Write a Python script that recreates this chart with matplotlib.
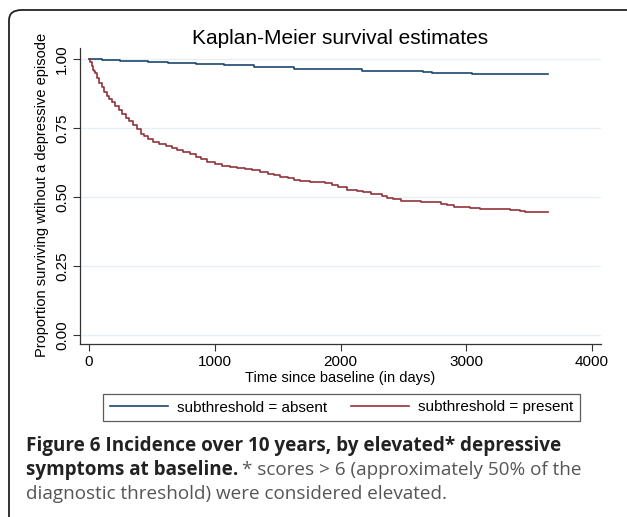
import matplotlib
matplotlib.use("Agg")
import matplotlib.pyplot as plt
from matplotlib.patches import FancyBboxPatch
from matplotlib.lines import Line2D

# ---- data ----
blue_t = [0, 100, 250, 470, 630, 850, 1070, 1310, 1630, 2170, 2660, 2730, 3046, 3650]
blue_s = [1.0, 0.996, 0.993, 0.990, 0.987, 0.983, 0.978, 0.970, 0.965, 0.957, 0.954, 0.951, 0.946, 0.946]

red_t = [0, 10, 20, 30, 40, 50, 65, 80, 100, 120, 140, 160, 185, 210, 235, 260, 290, 320,
         350, 380, 410, 440, 470, 510, 560, 610, 660, 700, 750, 800, 850, 890, 940, 1000,
         1060, 1120, 1180, 1240, 1300, 1360, 1420, 1470, 1520, 1580, 1630, 1680, 1760, 1880,
         1930, 1980, 2050, 2130, 2180, 2240, 2330, 2370, 2420, 2480, 2560, 2640, 2800, 2850,
         2900, 3030, 3110, 3350, 3430, 3470, 3650]
red_s = [1.0, 0.99, 0.975, 0.962, 0.955, 0.948, 0.930, 0.912, 0.898, 0.882, 0.867, 0.856,
         0.844, 0.830, 0.815, 0.800, 0.788, 0.776, 0.760, 0.745, 0.730, 0.720, 0.710, 0.700,
         0.692, 0.685, 0.677, 0.672, 0.664, 0.655, 0.645, 0.636, 0.628, 0.619, 0.613, 0.610,
         0.605, 0.600, 0.597, 0.590, 0.585, 0.580, 0.573, 0.567, 0.562, 0.558, 0.554, 0.551,
         0.545, 0.535, 0.527, 0.520, 0.517, 0.511, 0.504, 0.496, 0.491, 0.487, 0.484, 0.480,
         0.476, 0.470, 0.465, 0.461, 0.456, 0.453, 0.450, 0.446, 0.446]

xticks = [0, 1000, 2000, 3000, 4000]
yticks = [0.00, 0.25, 0.50, 0.75, 1.00]
labels = ["subthreshold = absent", "subthreshold = present"]
title = "Kaplan-Meier survival estimates"
xlabel = "Time since baseline (in days)"
ylabel = "Proportion surviving wtihout a depressive episode"

BLUE = "#1a476f"
RED = "#90353b"

W, H = 627, 517
fig = plt.figure(figsize=(W / 100, H / 100), dpi=100)
plt.rcParams['font.family'] = ['Liberation Sans', 'DejaVu Sans']

def fx(px):
    return px / W

def fy(py):
    return 1 - py / H

ax = fig.add_axes([fx(80), fy(344), fx(601) - fx(80), fy(48) - fy(344)])
ax.step(blue_t, blue_s, where='post', color=BLUE, lw=1.2, label=labels[0])
ax.step(red_t, red_s, where='post', color=RED, lw=1.2, label=labels[1])
ax.set_xlim(-72, 4072)
ax.set_ylim(-0.033, 1.04)
ax.set_xticks(xticks)
ax.set_yticks(yticks)
ax.set_yticklabels([f"{v:.2f}" for v in yticks], rotation=90, va='center')
ax.tick_params(axis='both', labelsize=11, length=5, width=0.8, color='#333333', pad=3)
for s in ['top', 'right']:
    ax.spines[s].set_visible(False)
for s in ['left', 'bottom']:
    ax.spines[s].set_color('#333333')
    ax.spines[s].set_linewidth(0.9)
ax.grid(axis='y', color='#e6eff1', lw=1.0)
ax.set_axisbelow(True)

fig.text(0.5 * (fx(80) + fx(601)), fy(38), title, ha='center', va='center', fontsize=15)
fig.text(0.5 * (fx(80) + fx(601)), fy(378), xlabel, ha='center', va='center', fontsize=10.5)
fig.text(fx(42), 0.5 * (fy(40) + fy(350)), ylabel, ha='center', va='center', rotation=90, fontsize=10.5)

# legend
handles = [Line2D([], [], color=BLUE, lw=1.2), Line2D([], [], color=RED, lw=1.2)]
leg = fig.legend(handles, labels, loc='center',
                 bbox_to_anchor=(fx(103), fy(422), fx(580) - fx(103), fy(393) - fy(422)),
                 mode='expand', ncol=2, fontsize=11, frameon=True, fancybox=False,
                 edgecolor='#333333', handlelength=3.8, handletextpad=0.6,
                 borderaxespad=0, borderpad=0.45, columnspacing=1.5)
leg.get_frame().set_linewidth(0.9)

# outer rounded frame
frame = FancyBboxPatch((fx(9), fy(540)), fx(650) - fx(9), fy(10) - fy(540),
                       boxstyle="round,pad=0,rounding_size=0.02",
                       transform=fig.transFigure, fill=False, edgecolor='#222222',
                       lw=1.3, clip_on=False)
fig.patches.append(frame)

# caption
cap_font = ['Open Sans', 'DejaVu Sans']
fs = 13.6
fig.text(fx(26), fy(446), "Figure 6 Incidence over 10 years, by elevated* depressive",
         ha='left', va='center', fontsize=fs, fontweight='bold', family=cap_font, color='#222222')
b = fig.text(fx(26), fy(470), "symptoms at baseline.", ha='left', va='center',
             fontsize=fs, fontweight='bold', family=cap_font, color='#222222')
fig.canvas.draw()
r = fig.canvas.get_renderer()
ext = b.get_window_extent(r)
fig.text(ext.x1 / fig.bbox.width + fx(4), fy(470), "* scores > 6 (approximately 50% of the",
         ha='left', va='center', fontsize=fs, family=cap_font, color='#555555')
fig.text(fx(26), fy(494), "diagnostic threshold) were considered elevated.",
         ha='left', va='center', fontsize=fs, family=cap_font, color='#555555')

fig.savefig("out.png", dpi=100)
